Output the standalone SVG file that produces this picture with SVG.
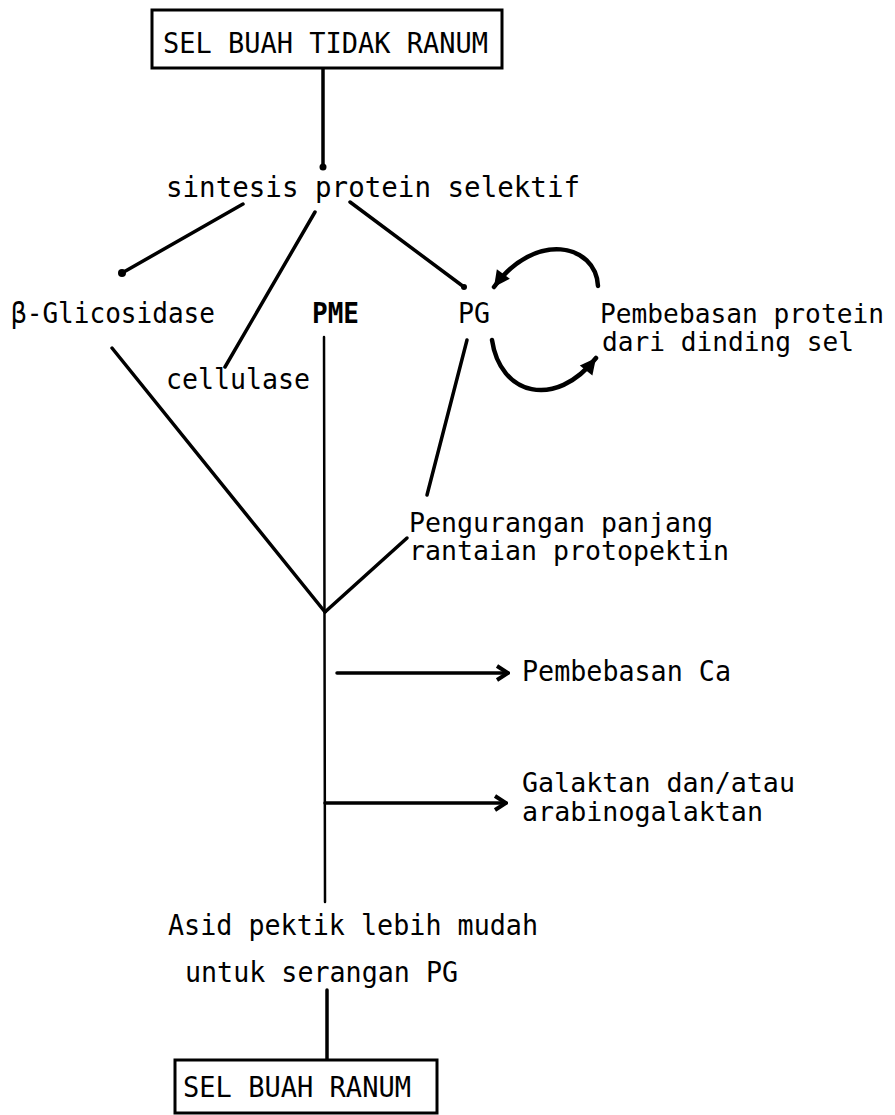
<svg xmlns="http://www.w3.org/2000/svg" width="895" height="1115" viewBox="0 0 895 1115">
<defs>
<style>
text{font-family:"DejaVu Sans Mono","Liberation Mono",monospace;font-size:28px;fill:#000;}
.b{font-weight:bold;}
.sm{font-size:26.5px;}
.ln{stroke:#000;stroke-width:2.5;fill:none;stroke-linecap:round;}
.th{stroke:#000;stroke-width:3.5;fill:none;stroke-linecap:round;}
.cv{stroke:#000;stroke-width:4.5;fill:none;stroke-linecap:round;}
.box{fill:#fff;stroke:#000;stroke-width:3;}
</style>
<marker id="chev" viewBox="-14 -10 16 20" refX="0" refY="0" markerWidth="16" markerHeight="20" markerUnits="userSpaceOnUse" orient="auto">
<path d="M-11,-7 L0,0 L-11,7" fill="none" stroke="#000" stroke-width="4" stroke-linejoin="miter"/>
</marker>
<marker id="tri" viewBox="-18 -10 20 20" refX="0" refY="0" markerWidth="20" markerHeight="20" markerUnits="userSpaceOnUse" orient="auto">
<path d="M-16,-8 L0,0 L-16,8 z" fill="#000"/>
</marker>
</defs>

<g id="connectors">
<line class="th" x1="323" y1="68" x2="323" y2="167"/>
<circle cx="323" cy="167" r="3.5"/>
<line class="th" x1="243" y1="204" x2="122" y2="273"/>
<circle cx="122" cy="273" r="4"/>
<line class="th" x1="315" y1="212" x2="225" y2="367"/>
<line class="th" x1="350" y1="202" x2="464" y2="287"/>
<circle cx="464" cy="287" r="3"/>
<path class="cv" d="M598,286 C596,244 535,230 494,287" marker-end="url(#tri)"/>
<path class="cv" d="M492,340 C500,395 555,410 596,358" marker-end="url(#tri)"/>
<line class="th" x1="112" y1="348" x2="325" y2="612"/>
<line class="ln" x1="324" y1="337" x2="325" y2="902"/>
<line class="th" x1="467" y1="340" x2="427" y2="495"/>
<line class="th" x1="407" y1="538" x2="325" y2="612"/>
<line class="th" x1="337" y1="673" x2="508" y2="673" marker-end="url(#chev)"/>
<line class="th" x1="325" y1="803" x2="506" y2="803" marker-end="url(#chev)"/>
<line class="th" x1="327" y1="990" x2="327" y2="1060"/>
</g>

<g id="node-tidak-ranum">
<rect class="box" x="152" y="10" width="350" height="58"/>
<text x="163" y="53" textLength="325" lengthAdjust="spacingAndGlyphs">SEL BUAH TIDAK RANUM</text>
</g>
<g id="node-sintesis">
<text x="166" y="197" textLength="414" lengthAdjust="spacingAndGlyphs">sintesis protein selektif</text>
</g>
<g id="node-glicosidase">
<text x="11" y="323" textLength="204" lengthAdjust="spacingAndGlyphs">β-Glicosidase</text>
</g>
<g id="node-pme">
<text class="b" x="312" y="323" textLength="47" lengthAdjust="spacingAndGlyphs">PME</text>
</g>
<g id="node-pg">
<text x="458" y="323" textLength="32" lengthAdjust="spacingAndGlyphs">PG</text>
</g>
<g id="node-pembebasan-protein">
<text class="sm" x="600" y="323" textLength="284" lengthAdjust="spacingAndGlyphs">Pembebasan protein</text>
<text class="sm" x="602" y="351" textLength="252" lengthAdjust="spacingAndGlyphs">dari dinding sel</text>
</g>
<g id="node-cellulase">
<text x="166" y="389" textLength="144" lengthAdjust="spacingAndGlyphs">cellulase</text>
</g>
<g id="node-pengurangan">
<text class="sm" x="409" y="532" textLength="304" lengthAdjust="spacingAndGlyphs">Pengurangan panjang</text>
<text class="sm" x="409" y="560" textLength="320" lengthAdjust="spacingAndGlyphs">rantaian protopektin</text>
</g>
<g id="node-ca">
<text x="522" y="681" textLength="209" lengthAdjust="spacingAndGlyphs">Pembebasan Ca</text>
</g>
<g id="node-galaktan">
<text class="sm" x="522" y="792" textLength="273" lengthAdjust="spacingAndGlyphs">Galaktan dan/atau</text>
<text class="sm" x="522" y="821" textLength="241" lengthAdjust="spacingAndGlyphs">arabinogalaktan</text>
</g>
<g id="node-asid">
<text x="168" y="935" textLength="370" lengthAdjust="spacingAndGlyphs">Asid pektik lebih mudah</text>
<text x="185" y="982" textLength="273" lengthAdjust="spacingAndGlyphs">untuk serangan PG</text>
</g>
<g id="node-ranum">
<rect class="box" x="175" y="1060" width="262" height="53"/>
<text x="183" y="1097" textLength="228" lengthAdjust="spacingAndGlyphs">SEL BUAH RANUM</text>
</g>
</svg>
